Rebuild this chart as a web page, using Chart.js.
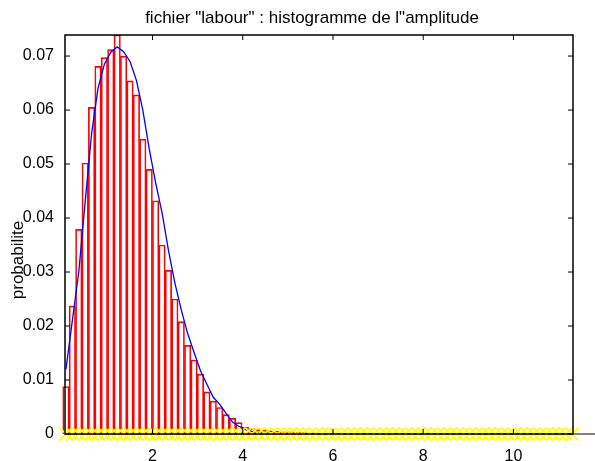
<!DOCTYPE html>
<html>
<head>
<meta charset="utf-8">
<script src="https://cdn.jsdelivr.net/npm/chart.js@4/dist/chart.umd.min.js"></script>
<style>
  body { margin: 0; background: #fff; }
  canvas { display: block; }
</style>
</head>
<body>
<canvas id="c" width="595" height="461"></canvas>
<script>
// histogramme de l'amplitude : 80 classes de même largeur
var binStart = 0.01
var binWidth = 0.142
var probabilite = [
  0.0088, 0.0237, 0.0379, 0.0502, 0.0605, 0.0681, 0.0697, 0.0712, 0.0739, 0.0700,
  0.0654, 0.0628, 0.0546, 0.0490, 0.0432, 0.0350, 0.0303, 0.0250, 0.0208, 0.0164,
  0.0137, 0.0111, 0.0078, 0.0061, 0.0049, 0.0036, 0.0029, 0.0021, 0.0013, 0.0010,
  0.0008, 0.0007, 0.0006, 0.0005, 0.0004, 0.0004, 0.0003, 0.0003, 0.0002, 0.0002,
  0.0001, 0.0001, 0, 0, 0, 0, 0, 0, 0, 0,
  0, 0, 0, 0, 0, 0, 0, 0, 0, 0,
  0, 0, 0, 0, 0, 0, 0, 0, 0, 0,
  0, 0, 0, 0, 0, 0, 0, 0, 0, 0
]
// courbe ajustée (bleue), une valeur par classe
var ajustement = [
  0.0120, 0.0210, 0.0300, 0.0430, 0.0556, 0.0640, 0.0685, 0.0707, 0.0717, 0.0708,
  0.0690, 0.0655, 0.0600, 0.0528, 0.0465, 0.0410, 0.0340, 0.0280, 0.0230, 0.0186,
  0.0151, 0.0117, 0.0092, 0.0068, 0.0055, 0.0038, 0.0022, 0.0014, 0.0008, 0.0005,
  0.0003, 0.0001, 0, 0, 0, 0, 0, 0, 0, 0,
  0, 0, 0, 0, 0, 0, 0, 0, 0, 0,
  0, 0, 0, 0, 0, 0, 0, 0, 0, 0,
  0, 0, 0, 0, 0, 0, 0, 0, 0, 0,
  0, 0, 0, 0, 0, 0, 0, 0, 0, 0
]
var xTicks = [2, 4, 6, 8, 10]
var yTicks = [0, 0.01, 0.02, 0.03, 0.04, 0.05, 0.06, 0.07]
var xLimits = [0.06, 11.32]
var yLimits = [0, 0.0739]
var zeroLine = [0.06, 13]
var titre = 'fichier "labour" : histogramme de l"amplitude'
var yLabel = 'probabilite'

var centres = probabilite.map(function (v, i) { return binStart + binWidth * (i + 0.5) })
function points(values) {
  return values.map(function (v, i) { return { x: centres[i], y: v } })
}

var police = '"Liberation Sans", Arial, sans-serif'

// cadre, graduations vers l'intérieur, titre et label y
var cadre = {
  id: 'cadre',
  afterDatasetsDraw: function (chart) {
    var ctx = chart.ctx, a = chart.chartArea
    var xs = chart.scales.x, ys = chart.scales.y
    ctx.save()
    ctx.strokeStyle = '#000'
    ctx.lineWidth = 1.5
    ctx.strokeRect(a.left, a.top, a.right - a.left, a.bottom - a.top)
    ctx.beginPath()
    xTicks.forEach(function (t) {
      var x = xs.getPixelForValue(t)
      ctx.moveTo(x, a.bottom); ctx.lineTo(x, a.bottom - 5)
      ctx.moveTo(x, a.top); ctx.lineTo(x, a.top + 5)
    })
    yTicks.forEach(function (t) {
      var y = ys.getPixelForValue(t)
      ctx.moveTo(a.left, y); ctx.lineTo(a.left + 5, y)
      ctx.moveTo(a.right, y); ctx.lineTo(a.right - 5, y)
    })
    ctx.lineWidth = 1
    ctx.stroke()

    ctx.fillStyle = '#000'
    ctx.font = '17px ' + police
    ctx.textAlign = 'center'
    ctx.textBaseline = 'alphabetic'
    ctx.fillText(titre, 312, 23)
    ctx.translate(18, 260)
    ctx.rotate(-Math.PI / 2)
    ctx.textBaseline = 'middle'
    ctx.fillText(yLabel, 0, 0)
    ctx.restore()
  }
}

new Chart(document.getElementById('c').getContext('2d'), {
  type: 'bar',
  data: {
    datasets: [{
      type: 'line',
      data: points(probabilite.map(function () { return 0 })),
      showLine: false,
      pointStyle: 'crossRot',
      pointRadius: 9,
      pointBorderColor: '#ffff00',
      pointBorderWidth: 1.7,
      clip: false,
      order: 0
    }, {
      type: 'line',
      data: points(ajustement),
      borderColor: '#0000ff',
      borderWidth: 1.3,
      pointRadius: 0,
      tension: 0,
      order: 1
    }, {
      type: 'line',
      data: zeroLine.map(function (x) { return { x: x, y: 0 } }),
      borderColor: '#000',
      borderWidth: 1,
      pointRadius: 0,
      clip: false,
      order: 2
    }, {
      type: 'bar',
      data: points(probabilite),
      backgroundColor: 'rgba(255,255,255,0)',
      borderColor: '#ff0000',
      borderWidth: 1,
      barPercentage: 1,
      categoryPercentage: 1,
      clip: false,
      order: 3
    }]
  },
  options: {
    responsive: false,
    animation: false,
    events: [],
    devicePixelRatio: 1,
    layout: { padding: { top: 35, right: 22, left: 0, bottom: 0 } },
    plugins: { legend: { display: false }, tooltip: { enabled: false }, title: { display: false } },
    scales: {
      x: {
        type: 'linear',
        min: xLimits[0],
        max: xLimits[1],
        offset: false,
        grid: { display: false, offset: false },
        border: { display: false },
        afterBuildTicks: function (s) { s.ticks = xTicks.map(function (v) { return { value: v } }) },
        afterFit: function (s) { s.height = 27 },
        ticks: {
          autoSkip: false,
          maxRotation: 0,
          padding: 5,
          color: '#000',
          font: { family: police, size: 16 }
        }
      },
      y: {
        type: 'linear',
        min: yLimits[0],
        max: yLimits[1],
        grid: { display: false },
        border: { display: false },
        afterBuildTicks: function (s) { s.ticks = yTicks.map(function (v) { return { value: v } }) },
        afterFit: function (s) { s.width = 65 },
        ticks: {
          padding: 3,
          color: '#000',
          font: { family: police, size: 16 },
          callback: function (v) { return String(+v.toFixed(2)) }
        }
      }
    }
  },
  plugins: [cadre]
})
</script>
</body>
</html>
